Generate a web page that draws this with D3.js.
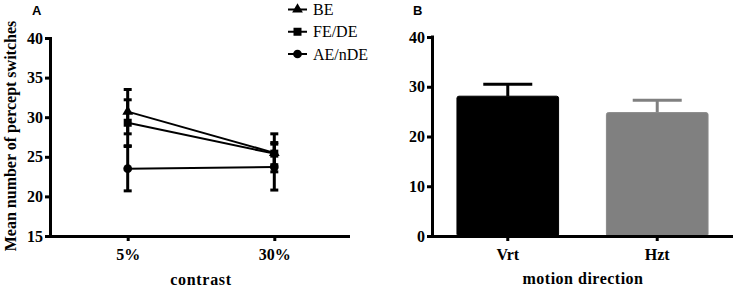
<!DOCTYPE html>
<html>
<head>
<meta charset="utf-8">
<script src="https://cdn.jsdelivr.net/npm/d3@7"></script>
<style>
  html, body { margin: 0; padding: 0; background: #fff; }
  svg { display: block; }
  .tick text { font-family: "Liberation Serif", "Times New Roman", serif; font-weight: bold; font-size: 16px; fill: #000; }
</style>
</head>
<body>
<script>
// ---- Panel A data ----
const contrastLevels = ["5%", "30%"];
const seriesNames = ["BE", "FE/DE", "AE/nDE"];
const seriesShapes = ["triangle", "square", "circle"];
const meansBE = [30.7, 25.5];
const meansFEDE = [29.3, 25.4];
const meansAEnDE = [23.5, 23.7];
const errBE = [2.8, 2.4];
const errFEDE = [2.9, 1.4];
const errAEnDE = [2.8, 2.9];
const yTicksA = [15, 20, 25, 30, 35, 40];

// ---- Panel B data ----
const directions = ["Vrt", "Hzt"];
const directionMeans = [28.1, 24.8];
const directionErr = [2.4, 2.5];
const directionColors = ["#000000", "#808080"];
const yTicksB = [0, 10, 20, 30, 40];

const W = 737, H = 289;
const svg = d3.select("body").append("svg").attr("width", W).attr("height", H);
const serif = '"Liberation Serif", "Times New Roman", serif';

// ================= Panel A =================
const xA = d3.scalePoint().domain(contrastLevels).range([50, 352]).padding(0.53);
const yA = d3.scaleLinear().domain([15, 40]).range([236, 38]);

const gA = svg.append("g");

const series = [
  { name: seriesNames[0], shape: seriesShapes[0], m: meansBE, e: errBE },
  { name: seriesNames[1], shape: seriesShapes[1], m: meansFEDE, e: errFEDE },
  { name: seriesNames[2], shape: seriesShapes[2], m: meansAEnDE, e: errAEnDE }
];

function symFor(shape) {
  if (shape === "triangle") return d3.symbol().type(d3.symbolTriangle).size(50)();
  if (shape === "square") return d3.symbol().type(d3.symbolSquare).size(64)();
  return d3.symbol().type(d3.symbolCircle).size(60)();
}

// error bars
series.forEach(s => {
  contrastLevels.forEach((c, i) => {
    const x = xA(c);
    const y1 = yA(s.m[i] + s.e[i]), y2 = yA(s.m[i] - s.e[i]);
    gA.append("line").attr("x1", x).attr("x2", x).attr("y1", y1).attr("y2", y2)
      .attr("stroke", "#000").attr("stroke-width", 3);
    [y1, y2].forEach(yy => {
      gA.append("line").attr("x1", x - 4).attr("x2", x + 4).attr("y1", yy).attr("y2", yy)
        .attr("stroke", "#000").attr("stroke-width", 3);
    });
  });
});

// lines
const lineA = d3.line().x((d, i) => xA(contrastLevels[i])).y(d => yA(d));
series.forEach(s => {
  gA.append("path").attr("d", lineA(s.m)).attr("fill", "none")
    .attr("stroke", "#000").attr("stroke-width", 2);
});

// markers
series.forEach(s => {
  contrastLevels.forEach((c, i) => {
    gA.append("path").attr("d", symFor(s.shape))
      .attr("transform", `translate(${xA(c)},${yA(s.m[i])})`)
      .attr("fill", "#000");
  });
});

// axes A
const axA_y = gA.append("g").attr("transform", "translate(50,0)")
  .call(d3.axisLeft(yA).tickValues(yTicksA).tickSize(5).tickSizeOuter(0).tickPadding(2));
const axA_x = gA.append("g").attr("transform", "translate(0,236)")
  .call(d3.axisBottom(xA).tickSize(5).tickSizeOuter(0).tickPadding(8));
axA_x.select(".domain").attr("d", "M48.5,0.5H350");
[axA_y, axA_x].forEach(a => {
  a.select(".domain").attr("stroke", "#000").attr("stroke-width", 3);
  a.selectAll(".tick line").attr("stroke", "#000").attr("stroke-width", 3);
});
axA_y.select(".domain").attr("d", "M0.5,37V237.5");

gA.append("text").attr("transform", "translate(16,136) rotate(-90)")
  .attr("text-anchor", "middle").attr("font-family", serif).attr("font-weight", "bold")
  .attr("font-size", 16).text("Mean number of percept switches");
gA.append("text").attr("x", 201).attr("y", 285).attr("text-anchor", "middle")
  .attr("font-family", serif).attr("font-weight", "bold").attr("font-size", 16)
  .attr("letter-spacing", 0.7).text("contrast");
gA.append("text").attr("x", 32).attr("y", 15).attr("font-family", "Liberation Sans, Arial, sans-serif")
  .attr("font-weight", "bold").attr("font-size", 13).text("A");

// legend
const legY = d3.scalePoint().domain(seriesNames).range([9.5, 54]);
series.forEach(s => {
  const y = legY(s.name);
  gA.append("line").attr("x1", 288).attr("x2", 307).attr("y1", y).attr("y2", y)
    .attr("stroke", "#000").attr("stroke-width", 2);
  gA.append("path").attr("d", symFor(s.shape)).attr("transform", `translate(297.5,${y})`).attr("fill", "#000");
  gA.append("text").attr("x", 313).attr("y", y + 5.5).attr("font-family", serif)
    .attr("font-size", 16).text(s.name);
});

// ================= Panel B =================
const xB = d3.scaleBand().domain(directions).range([432, 733]).paddingInner(0.32).paddingOuter(0.167);
const yB = d3.scaleLinear().domain([0, 40]).range([236, 37]);
const gB = svg.append("g");

directions.forEach((d, i) => {
  const col = directionColors[i];
  const cx = xB(d) + xB.bandwidth() / 2;
  const yTop = yB(directionMeans[i]);
  const yErr = yB(directionMeans[i] + directionErr[i]);
  gB.append("line").attr("x1", cx).attr("x2", cx).attr("y1", yTop).attr("y2", yErr)
    .attr("stroke", col).attr("stroke-width", 3);
  gB.append("line").attr("x1", cx - 24.5).attr("x2", cx + 24.5).attr("y1", yErr).attr("y2", yErr)
    .attr("stroke", col).attr("stroke-width", 3);
  gB.append("rect").attr("x", xB(d)).attr("y", yTop).attr("width", xB.bandwidth())
    .attr("height", yB(0) - yTop).attr("rx", 2).attr("fill", col)
    .attr("stroke", i === 0 ? "#000" : "#8a8a8a").attr("stroke-width", 1);
});

const axB_y = gB.append("g").attr("transform", "translate(432,0)")
  .call(d3.axisLeft(yB).tickValues(yTicksB).tickSize(5).tickSizeOuter(0).tickPadding(2));
const axB_x = gB.append("g").attr("transform", "translate(0,236)")
  .call(d3.axisBottom(xB).tickSize(5).tickSizeOuter(0).tickPadding(8));
[axB_y, axB_x].forEach(a => {
  a.select(".domain").attr("stroke", "#000").attr("stroke-width", 3);
  a.selectAll(".tick line").attr("stroke", "#000").attr("stroke-width", 3);
});
axB_y.select(".domain").attr("d", "M0.5,35.5V237.5");
axB_x.select(".domain").attr("d", "M430.5,0.5H733");

gB.append("text").attr("x", 583).attr("y", 284).attr("text-anchor", "middle")
  .attr("font-family", serif).attr("font-weight", "bold").attr("font-size", 16)
  .attr("letter-spacing", 0.5).text("motion direction");
gB.append("text").attr("x", 413).attr("y", 15).attr("font-family", "Liberation Sans, Arial, sans-serif")
  .attr("font-weight", "bold").attr("font-size", 13).text("B");
</script>
</body>
</html>
